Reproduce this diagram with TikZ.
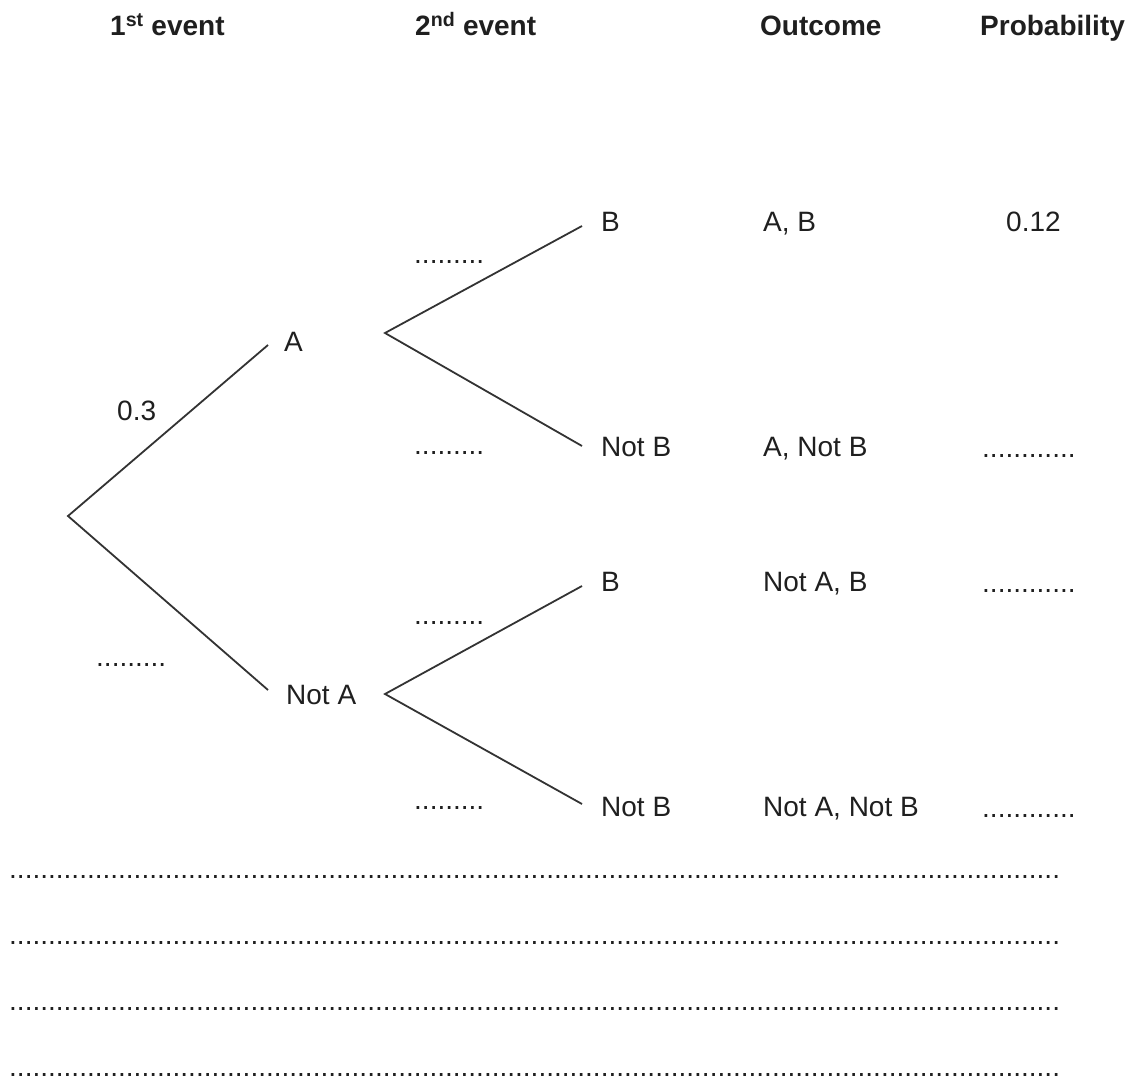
\documentclass[tikz,border=0pt]{standalone}
\usepackage{fontspec}
\setmainfont{Liberation Sans}
\newcommand\dotrow[1]{\foreach\i in {1,...,#1}{.}}
\begin{document}
\begin{tikzpicture}[x=1pt,y=-1pt,
  txt/.style={anchor=base west,inner sep=0pt,font=\fontsize{28}{34}\selectfont,text=black!88},
  hdr/.style={txt,font=\fontsize{28}{34}\selectfont\bfseries},
  branch/.style={line width=1.8pt,draw=black!80}]
\useasboundingbox (0,0) rectangle (1138,1086);
% headers
\node[hdr] (h1) at (110,36) {1\textsuperscript{st} event};
\node[hdr] (h2) at (415,36) {2\textsuperscript{nd} event};
\node[hdr] (h3) at (760,36) {Outcome};
\node[hdr] (h4) at (980,36) {Probability};
% branch points
\coordinate (root) at (68,516);
\coordinate (aend) at (268,345);
\coordinate (naend) at (268,690);
\coordinate (ajun) at (385,333);
\coordinate (najun) at (385,694);
\coordinate (b1) at (582,226);
\coordinate (nb1) at (582,446);
\coordinate (b2) at (582,586);
\coordinate (nb2) at (582,804);
\draw[branch] (aend) -- (root) -- (naend);
\draw[branch] (b1) -- (ajun) -- (nb1);
\draw[branch] (b2) -- (najun) -- (nb2);
% labels
\node[txt] (la) at (284,351) {A};
\node[txt] (lna) at (286,704) {Not A};
\node[txt] (lb1) at (601,232) {B};
\node[txt] (lnb1) at (601,456) {Not B};
\node[txt] (lb2) at (601,591) {B};
\node[txt] (lnb2) at (601,816) {Not B};
\node[txt] (p1) at (117,420) {0.3};
\node[txt] (p2) at (96,666) {\dotrow{9}};
\node[txt] (q1) at (414,264) {\dotrow{9}};
\node[txt] (q2) at (414,454) {\dotrow{9}};
\node[txt] (q3) at (414,624) {\dotrow{9}};
\node[txt] (q4) at (414,809) {\dotrow{9}};
% outcomes
\node[txt] (o1) at (763,232) {A, B};
\node[txt] (o2) at (763,456) {A, Not B};
\node[txt] (o3) at (763,591) {Not A, B};
\node[txt] (o4) at (763,816) {Not A, Not B};
% probabilities
\node[txt] (r1) at (1006,232) {0.12};
\node[txt] (r2) at (982,457) {\dotrow{12}};
\node[txt] (r3) at (982,592) {\dotrow{12}};
\node[txt] (r4) at (982,817) {\dotrow{12}};
% answer lines
\node[txt] (l1) at (9,878) {\dotrow{135}};
\node[txt] (l2) at (9,944) {\dotrow{135}};
\node[txt] (l3) at (9,1010) {\dotrow{135}};
\node[txt] (l4) at (9,1076) {\dotrow{135}};
\end{tikzpicture}
\end{document}
